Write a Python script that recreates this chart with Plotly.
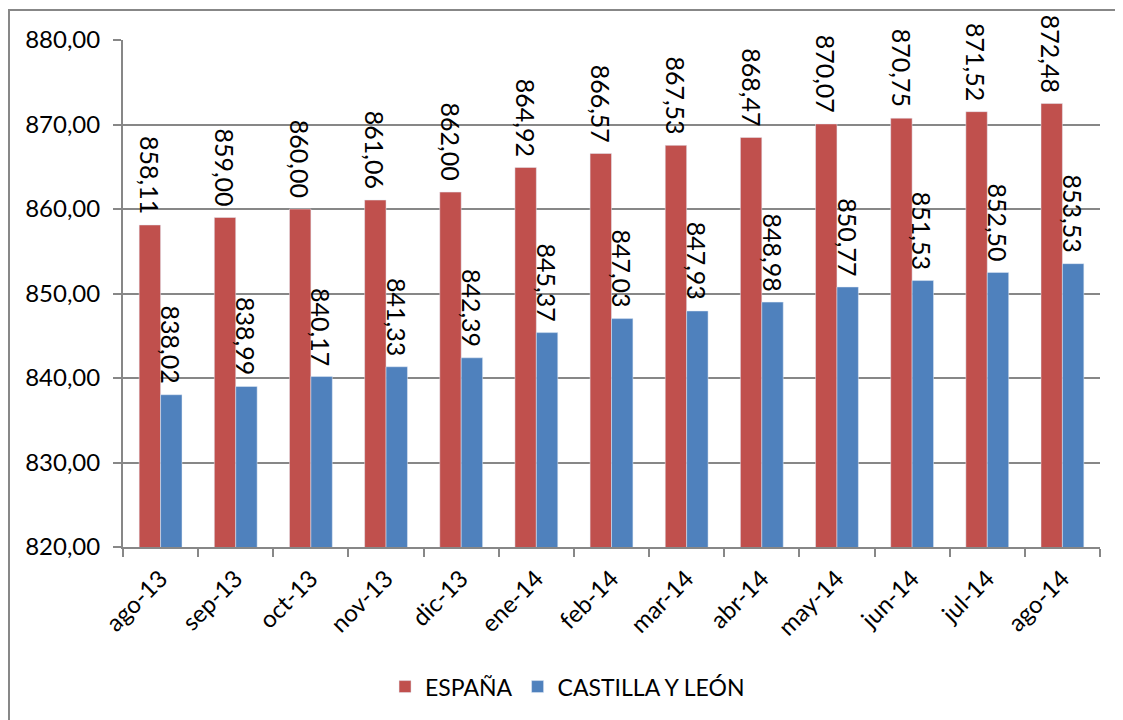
import plotly.graph_objects as go

months = ["ago-13", "sep-13", "oct-13", "nov-13", "dic-13", "ene-14", "feb-14",
          "mar-14", "abr-14", "may-14", "jun-14", "jul-14", "ago-14"]
espana = [858.11, 859.00, 860.00, 861.06, 862.00, 864.92, 866.57,
          867.53, 868.47, 870.07, 870.75, 871.52, 872.48]
cyl = [838.02, 838.99, 840.17, 841.33, 842.39, 845.37, 847.03,
       847.93, 848.98, 850.77, 851.53, 852.50, 853.53]

font_family = "Lato, 'Open Sans', sans-serif"
grey = "#878787"

fig = go.Figure()
fig.add_trace(go.Bar(x=months, y=espana, name="ESPAÑA",
                     marker=dict(color="#C0504D")))
fig.add_trace(go.Bar(x=months, y=cyl, name="CASTILLA Y LEÓN",
                     marker=dict(color="#4F81BD")))

# rotated value labels above each bar
annotations = []
for vals, shift in [(espana, -10.7), (cyl, 10.7)]:
    for m, v in zip(months, vals):
        annotations.append(dict(
            x=m, y=v, xref="x", yref="y",
            text=f"{v:.2f}".replace(".", ","),
            textangle=90, showarrow=False,
            xanchor="center", yanchor="bottom",
            xshift=shift, yshift=9,
            font=dict(size=25, color="black", family=font_family),
        ))

fig.update_layout(
    width=1123, height=720,
    barmode="group", bargap=0.43, bargroupgap=0,
    separators=",.",
    plot_bgcolor="white", paper_bgcolor="white",
    font=dict(family=font_family, size=24, color="black"),
    margin=dict(l=115, r=31, t=32, b=181, autoexpand=False),
    annotations=annotations,
    xaxis=dict(
        showline=True, linecolor=grey, linewidth=2,
        ticks="outside", tickson="boundaries", ticklen=8, tickcolor=grey,
        tickwidth=2, tickangle=-45, tickfont=dict(size=24),
        ticklabelstandoff=6, showgrid=False,
    ),
    yaxis=dict(
        range=[820, 880], dtick=10, tickformat=".2f",
        showline=True, linecolor=grey, linewidth=2,
        ticks="outside", ticklen=8, tickcolor=grey, tickwidth=2,
        showgrid=True, gridcolor=grey, gridwidth=2,
        tickfont=dict(size=24), ticklabelstandoff=8, zeroline=False,
    ),
    legend=dict(
        orientation="h", x=0.455, xanchor="center", y=-0.233, yanchor="top",
        font=dict(size=23), traceorder="normal",
        bgcolor="rgba(0,0,0,0)",
    ),
    shapes=[dict(
        type="rect", xref="paper", yref="paper",
        x0=-0.1167, x1=1.2, y0=-0.6, y1=1.059,
        line=dict(color=grey, width=2), fillcolor="rgba(0,0,0,0)",
    )],
)

fig.write_html("out.html")
